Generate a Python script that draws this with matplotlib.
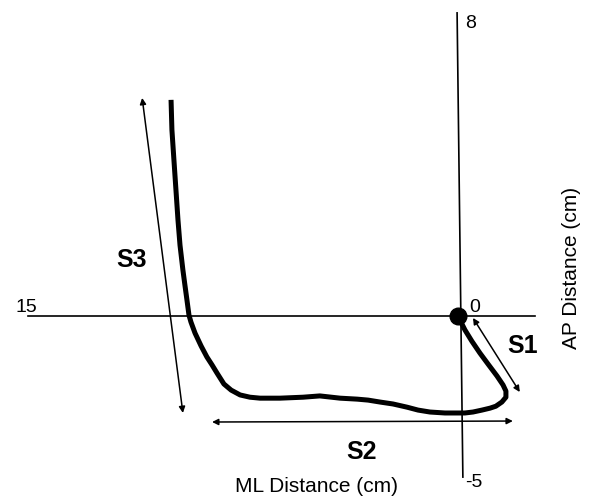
import matplotlib
matplotlib.use("Agg")
import matplotlib.pyplot as plt

plt.rcParams['font.family'] = ['Liberation Sans', 'DejaVu Sans']

# Centre-of-pressure trajectory (ML cm, AP cm); ML grows to the left
traj_ml = [0.00, -0.14, -0.24, -0.48, -0.76, -1.04, -1.35, -1.56, -1.66, -1.66,
           -1.52, -1.31, -1.11, -0.83, -0.52, -0.24, 0.03, 0.45, 0.97, 1.38,
           1.76, 2.25, 2.70, 3.11, 3.49, 4.08, 4.78, 5.36, 6.16, 6.85,
           7.20, 7.54, 7.85, 8.10, 8.34, 8.51, 8.69, 8.89, 9.10, 9.24,
           9.31, 9.38, 9.45, 9.52, 9.62, 9.69, 9.76, 9.83, 9.90, 9.93]
traj_ap = [0.00, -0.25, -0.43, -0.78, -1.15, -1.49, -1.86, -2.14, -2.33, -2.52,
           -2.67, -2.80, -2.86, -2.92, -2.98, -3.01, -3.01, -3.01, -2.98, -2.92,
           -2.83, -2.73, -2.67, -2.61, -2.58, -2.55, -2.48, -2.52, -2.55, -2.55,
           -2.52, -2.45, -2.30, -2.11, -1.77, -1.52, -1.27, -0.93, -0.53, -0.19,
           0.03, 0.50, 0.96, 1.43, 2.20, 2.98, 3.91, 4.84, 5.78, 6.71]

# Axis extents and labels
ml_axis = [14.88, -2.66]
ap_axis_top = (0.03, 9.41)
ap_axis_bottom = (-0.17, -5.00)
tick_labels = ["15", "0", "8", "-5"]

# Segment arrows (start, end)
seg_names = ["S1", "S2", "S3"]
seg_start = [(-0.52, -0.06), (8.51, -3.29), (10.93, 6.77)]
seg_end = [(-2.14, -2.36), (-1.90, -3.26), (9.52, -3.01)]

fig = plt.figure(figsize=(5.9, 4.99), dpi=100)
ax = fig.add_axes([0, 0, 1, 1])
ax.set_xlim(15.85, -4.57)
ax.set_ylim(-5.68, 9.81)
ax.axis('off')

# axes lines
ax.plot(ml_axis, [0, 0], color='black', lw=1.2)
ax.plot([ap_axis_top[0], ap_axis_bottom[0]], [ap_axis_top[1], ap_axis_bottom[1]],
        color='black', lw=1.2)

# trajectory
ax.plot(traj_ml, traj_ap, color='black', lw=3.6, solid_joinstyle='round',
        solid_capstyle='butt')
ax.plot([traj_ml[0]], [traj_ap[0]], 'o', color='black', ms=12)

# arrows
for s, e in zip(seg_start, seg_end):
    ax.annotate('', xy=e, xytext=s,
                arrowprops=dict(arrowstyle='<|-|>', color='black', lw=1.1,
                                mutation_scale=9, shrinkA=0, shrinkB=0))

# tick labels
tick_pos = [(14.95, 0.12), (-0.59, 0.12), (-0.45, 8.94), (-0.55, -5.30)]
for t, (x, y) in zip(tick_labels, tick_pos):
    ax.text(x, y, t, fontsize=14, ha='center', va='baseline')

# segment labels
seg_lbl_pos = [(-2.25, -1.15), (3.32, -4.44), (11.31, 1.52)]
for t, (x, y) in zip(seg_names, seg_lbl_pos):
    ax.text(x, y, t, fontsize=18, fontweight='bold', ha='center', va='baseline')

ax.text(4.91, -5.47, "ML Distance (cm)", fontsize=15, ha='center', va='baseline')
ax.text(-3.94, 1.49, "AP Distance (cm)", fontsize=15, ha='center', va='center',
        rotation=90)

fig.savefig("out.png", dpi=100)
